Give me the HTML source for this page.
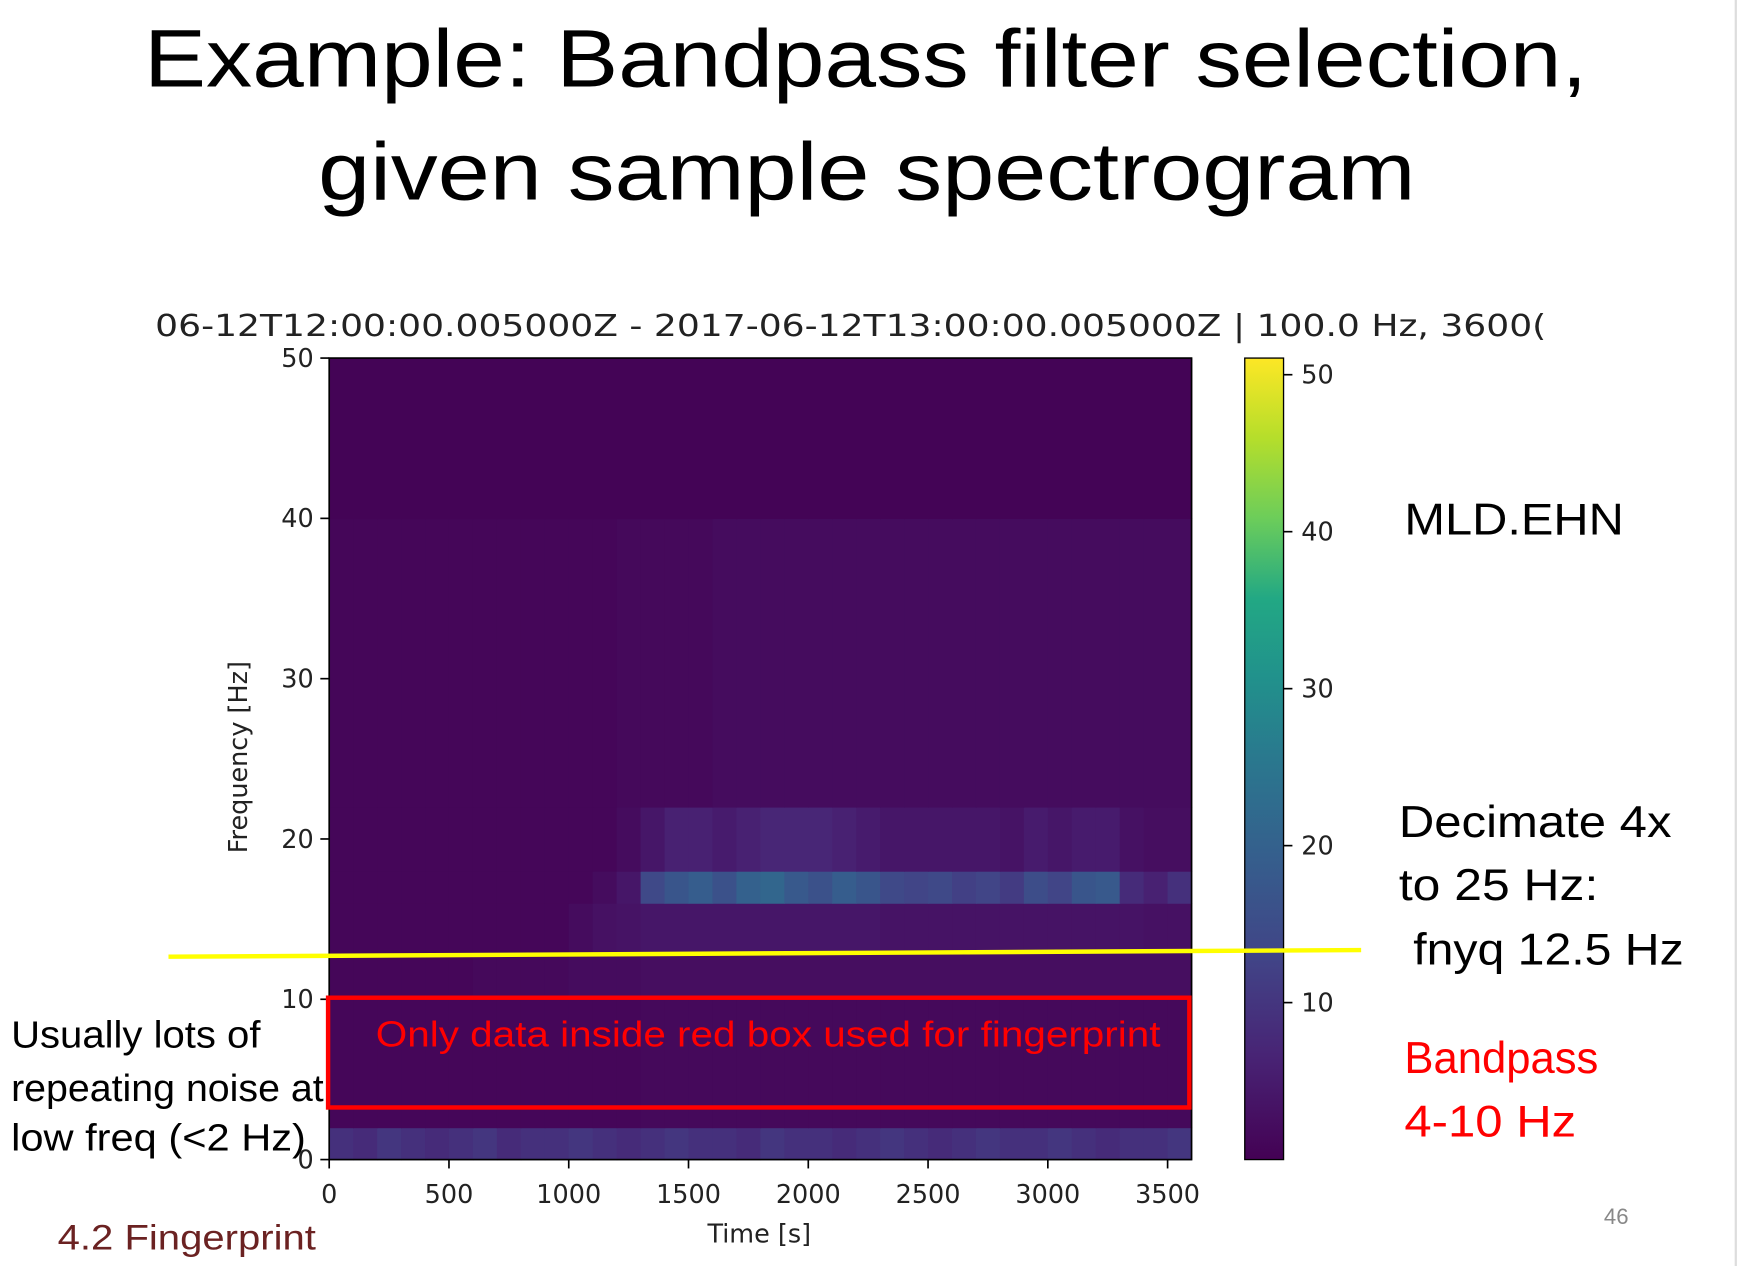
<!DOCTYPE html>
<html><head><meta charset="utf-8"><style>
html,body{margin:0;padding:0;background:#fff;}
svg{display:block;}
</style></head><body>
<svg id="chart" width="1738" height="1266" viewBox="0 0 1568 1142" preserveAspectRatio="none" xmlns="http://www.w3.org/2000/svg" font-family="'Liberation Sans', sans-serif">
<rect x="0" y="0" width="1568" height="1142" fill="#fff"/>
<line x1="1566" y1="0" x2="1566" y2="1142" stroke="#ddd" stroke-width="2"/>
<text x="130" y="78" font-size="74" fill="#000" textLength="1302" lengthAdjust="spacingAndGlyphs">Example: Bandpass filter selection,</text>
<text x="287" y="180" font-size="74" fill="#000" textLength="990" lengthAdjust="spacingAndGlyphs">given sample spectrogram</text>
<text x="140" y="303" font-family="'DejaVu Sans', sans-serif" font-size="27" fill="#222" textLength="1255" lengthAdjust="spacingAndGlyphs">06-12T12:00:00.005000Z - 2017-06-12T13:00:00.005000Z | 100.0 Hz, 3600(</text>
<g id="heat"></g>
<rect x="297" y="323" width="778" height="723" fill="none" stroke="#000" stroke-width="1.5"/>
<g id="axes"></g>
<text transform="translate(223,683) rotate(-90)" font-family="'DejaVu Sans', sans-serif" font-size="23" text-anchor="middle" fill="#222">Frequency [Hz]</text>
<text x="685" y="1121" font-family="'DejaVu Sans', sans-serif" font-size="23" text-anchor="middle" fill="#222">Time [s]</text>
<defs><linearGradient id="vir" x1="0" y1="1" x2="0" y2="0">
<stop offset="0" stop-color="#440154"/><stop offset="0.13" stop-color="#482475"/><stop offset="0.25" stop-color="#414487"/><stop offset="0.38" stop-color="#355f8d"/><stop offset="0.5" stop-color="#2a788e"/><stop offset="0.6" stop-color="#21918c"/><stop offset="0.7" stop-color="#22a884"/><stop offset="0.8" stop-color="#6ccd5a"/><stop offset="0.9" stop-color="#b5de2b"/><stop offset="1" stop-color="#fde725"/></linearGradient></defs>
<rect x="1123" y="323" width="35" height="723" fill="url(#vir)" stroke="#000" stroke-width="1.2"/>
<g id="cbaxis"></g>
<line x1="152" y1="863" x2="1228" y2="857" stroke="#ffff00" stroke-width="4"/>
<rect x="296" y="900" width="777" height="99" fill="none" stroke="#ff0000" stroke-width="4"/>
<g font-family="'Liberation Sans', sans-serif">
<text x="339" y="944" font-size="33" fill="#ff0000" textLength="708" lengthAdjust="spacingAndGlyphs">Only data inside red box used for fingerprint</text>
<text x="1267" y="482" font-size="40" fill="#000" textLength="198" lengthAdjust="spacingAndGlyphs">MLD.EHN</text>
<text x="1262" y="755" font-size="40" fill="#000" textLength="246" lengthAdjust="spacingAndGlyphs">Decimate 4x</text>
<text x="1262" y="812" font-size="40" fill="#000" textLength="180" lengthAdjust="spacingAndGlyphs">to 25 Hz:</text>
<text x="1275" y="870" font-size="40" fill="#000" textLength="244" lengthAdjust="spacingAndGlyphs">fnyq 12.5 Hz</text>
<text x="1267" y="968" font-size="40" fill="#ff0000" textLength="175" lengthAdjust="spacingAndGlyphs">Bandpass</text>
<text x="1267" y="1025" font-size="40" fill="#ff0000" textLength="155" lengthAdjust="spacingAndGlyphs">4-10 Hz</text>
<text x="10" y="945" font-size="34" fill="#000" textLength="225" lengthAdjust="spacingAndGlyphs">Usually lots of</text>
<text x="10" y="993" font-size="34" fill="#000" textLength="282" lengthAdjust="spacingAndGlyphs">repeating noise at</text>
<text x="10" y="1038" font-size="34" fill="#000" textLength="266" lengthAdjust="spacingAndGlyphs">low freq (&lt;2 Hz)</text>
<text x="52" y="1127" font-size="32" fill="#6b2222" textLength="233" lengthAdjust="spacingAndGlyphs">4.2 Fingerprint</text>
<text x="1447" y="1104" font-size="20" fill="#888">46</text>
</g>
</svg>
<script>
// time bins (start second), 100 s each
const timeBins = [0,100,200,300,400,500,600,700,800,900,1000,1100,1200,1300,1400,1500,1600,1700,1800,1900,2000,2100,2200,2300,2400,2500,2600,2700,2800,2900,3000,3100,3200,3300,3400,3500];
// frequency bands [low, high] Hz
const bandEdges = [[0,2],[2,10],[10,13],[13,16],[16,18],[18,22],[22,40],[40,50]];
// magnitude per band per time bin (colour scale 0..51)
const band0_2 = [9,8,10,9,8,9,10,8,9,9,10,9,8,9,10,9,9,8,10,9,9,8,9,10,9,8,9,10,9,9,10,9,8,9,9,10];
const band2_10 = [1,1,1,1,1,1,1,1,1,1,1,1,1,1.5,1.5,1.5,1.5,1.5,1.5,1.5,1.5,1.5,1.5,1.5,1.5,1.5,1.5,1.5,1.5,1.5,1.5,1.5,1.5,1.5,1.5,1.5];
const band10_13 = [1,1,1,1,1,1,1.5,1.5,1.5,1.5,2,2,2,2.5,2.5,2.5,2.5,2.5,2.5,2.5,2.5,2.5,2.5,2.5,2.5,2.5,2.5,2.5,2.5,2.5,2.5,2.5,2.5,2.5,2.5,2.5];
const band13_16 = [1,1,1,1,1,1,1,1,1,1,2,3,3.5,4,4,4,4,4,4,4,4,4,4,3.5,3.5,3.5,3.5,3.5,3.5,3.5,3.5,3.5,3.5,3.5,3,3];
const band16_18 = [1,1,1,1,1,1,1,1,1,1,1,2,4,14,17,19,16,20,21,18,16,19,17,14,13,14,12,13,11,15,13,17,18,8,6,9];
const band18_22 = [1,1,1,1,1,1,1,1,1,1,1,1,2,4,6,6,5,6,7,7,7,6,5,4,4,4,4,4,3.5,5,4,5,5,3,2.5,2.5];
const band22_40 = [1,1,1,1,1,1,1,1,1,1,1,1,1.5,1.5,1.5,1.5,2,2,2,2,2,2,2,2,2,2,2,2,2,2,2,2,2,2,2,2];
const band40_50 = [0.5,0.5,0.5,0.5,0.5,0.5,0.5,0.5,0.5,0.5,0.5,0.5,0.5,0.5,0.5,0.5,0.5,0.5,0.5,0.5,0.5,0.5,0.5,0.5,0.5,0.5,0.5,0.5,0.5,0.5,0.5,0.5,0.5,0.5,0.5,0.5];
const bandValues = [band0_2,band2_10,band10_13,band13_16,band16_18,band18_22,band22_40,band40_50];
const xTicks = [0,500,1000,1500,2000,2500,3000,3500];
const yTicks = [0,10,20,30,40,50];
const cbTicks = [10,20,30,40,50];

const X0=297,X1=1075,Y0=1046,Y1=323, TMAX=3600, FMAX=50, CMAX=51.06;
const xs = t => X0 + (X1-X0)*t/TMAX;
const ys = f => Y0 - (Y0-Y1)*f/FMAX;
const cs = v => Y0 - (Y0-Y1)*v/CMAX;
const stops=[[0,[68,1,84]],[0.13,[72,36,117]],[0.25,[65,68,135]],[0.38,[53,95,141]],[0.5,[42,120,142]],[0.6,[33,145,140]],[0.7,[34,168,132]],[0.8,[108,205,90]],[0.9,[181,222,43]],[1,[253,231,37]]];
function viridis(v){let p=Math.max(0,Math.min(1,v/CMAX));for(let i=1;i<stops.length;i++){if(p<=stops[i][0]){const a=stops[i-1],b=stops[i];const k=(p-a[0])/(b[0]-a[0]);const c=a[1].map((q,j)=>Math.round(q+(b[1][j]-q)*k));return `rgb(${c[0]},${c[1]},${c[2]})`;}}return 'rgb(253,231,37)';}
const NS='http://www.w3.org/2000/svg';
const heat=document.getElementById('heat');
bandEdges.forEach((be,bi)=>{
  timeBins.forEach((t,ti)=>{
    const r=document.createElementNS(NS,'rect');
    
    
    const x=xs(t), x2=xs(t+100);
    r.setAttribute('x',x);r.setAttribute('width',x2-x+0.6);
    r.setAttribute('y',ys(be[1]));r.setAttribute('height',ys(be[0])-ys(be[1])+0.6);
    r.setAttribute('fill',viridis(bandValues[bi][ti]));
    heat.appendChild(r);
  });
});
const axes=document.getElementById('axes');
function mk(tag,attrs,txt){const e=document.createElementNS(NS,tag);for(const k in attrs)e.setAttribute(k,attrs[k]);if(txt!==undefined)e.textContent=txt;return e;}
xTicks.forEach(t=>{
  const l=mk('line',{x1:xs(t),x2:xs(t),y1:Y0,y2:Y0+8,stroke:'#000','stroke-width':1.5});
  
  
  axes.appendChild(l);
  const tx=mk('text',{x:xs(t),y:Y0+39,'font-size':23,'text-anchor':'middle',fill:'#222','font-family':"'DejaVu Sans', sans-serif"},String(t));
  
  
  axes.appendChild(tx);
});
yTicks.forEach(f=>{
  const l=mk('line',{x1:X0-8,x2:X0,y1:ys(f),y2:ys(f),stroke:'#000','stroke-width':1.5});
  
  
  axes.appendChild(l);
  const tx=mk('text',{x:X0-14,y:ys(f)+8,'font-size':23,'text-anchor':'end',fill:'#222','font-family':"'DejaVu Sans', sans-serif"},String(f));
  
  
  axes.appendChild(tx);
});
const cb=document.getElementById('cbaxis');
cbTicks.forEach(v=>{
  const l=mk('line',{x1:1158,x2:1166,y1:cs(v),y2:cs(v),stroke:'#000','stroke-width':1.5});
  
  
  cb.appendChild(l);
  const tx=mk('text',{x:1174,y:cs(v)+8,'font-size':23,fill:'#222','font-family':"'DejaVu Sans', sans-serif"},String(v));
  
  
  cb.appendChild(tx);
});
</script>
</body></html>
